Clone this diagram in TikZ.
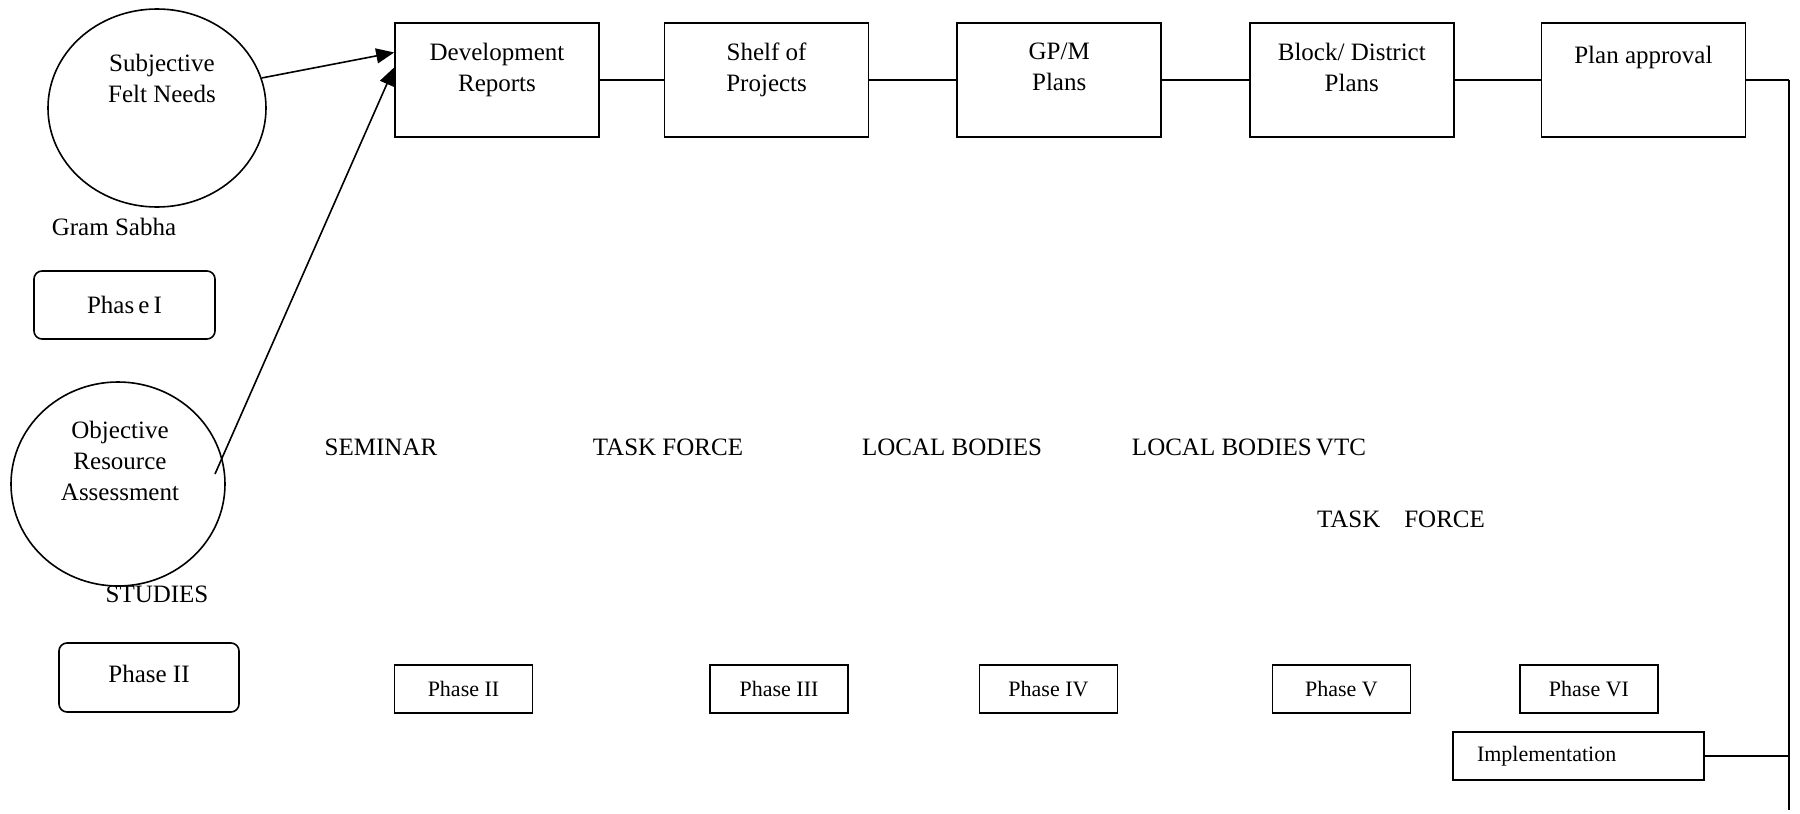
\documentclass[tikz,border=0pt]{standalone}
\usepackage{fontspec}
\setmainfont{Liberation Serif}
\usetikzlibrary{positioning, shapes.geometric, arrows.meta}

\begin{document}
\begin{tikzpicture}[x=0.5pt, y=-0.5pt,
        every node/.style={font=\fontsize{12.5}{15.5}\selectfont},
        planbox/.style={draw, line width=0.8pt, minimum width=102pt, minimum height=57pt, inner sep=0pt},
        boxtext/.style={anchor=north, yshift=-7pt, align=center},
        phasebox/.style={draw, line width=0.8pt, minimum width=69pt, minimum height=24pt, font=\fontsize{11}{13}\selectfont},
        roundphase/.style={draw, line width=0.8pt, rounded corners=4pt},
        needcircle/.style={draw, ellipse, line width=0.8pt, inner sep=0pt},
        link/.style={line width=0.8pt},
        arrowlink/.style={line width=0.8pt, -{Triangle[length=9pt, width=7.5pt]}}]
        \useasboundingbox (0,0) rectangle (1800,814);

        % plan stages
        \node[planbox, label={[boxtext]north:{Development\\Reports}}] (dev) at (497,80) {};
        \node[planbox, right=32pt of dev, label={[boxtext]north:{Shelf of\\Projects}}] (shelf) {};
        \node[planbox, right=43.5pt of shelf, label={[boxtext]north:{GP/M\\Plans}}] (gpm) {};
        \node[planbox, right=43.5pt of gpm, label={[boxtext]north:{Block/ District\\Plans}}] (block) {};
        \node[planbox, right=43pt of block, label={[boxtext, yshift=-1.5pt]north:{Plan approval}}] (approval) {};

        % sources
        \node[needcircle, minimum width=109pt, minimum height=99pt,
            label={[yshift=14.75pt, xshift=2.5pt, align=center]center:{Subjective\\Felt Needs}}] (felt) at (157,108) {};
        \node[needcircle, minimum width=107pt, minimum height=102pt,
            label={[yshift=11.5pt, xshift=1pt, align=center]center:{Objective\\Resource\\Assessment}}] (objective) at (118,484) {};
        \node (gram) at (114,227) {Gram Sabha};
        \node (studies) at (157,594) {STUDIES};
        \node[roundphase, minimum width=90.5pt, minimum height=34pt] (phaseI) at (124.5,305) {Phas\,e\,I};
        \node[roundphase, minimum width=90pt, minimum height=34.5pt, text depth=4pt] (phaseII) at (149,677.5) {Phase II};

        % agencies
        \node (seminar) at (381,447) {SEMINAR};
        \node (taskforce) at (668,447) {TASK FORCE};
        \node (local) at (952,447) {LOCAL BODIES};
        \node (localvtc) at (1249,447) {LOCAL BODIES\,VTC};
        \node (vtcforce) at (1401,519) {TASK\hspace{12pt}FORCE};

        % phases
        \node[phasebox] (p2) at (463.5,689) {Phase II};
        \node[phasebox] (p3) at (779,689) {Phase III};
        \node[phasebox] (p4) at (1048.5,689) {Phase IV};
        \node[phasebox] (p5) at (1341.5,689) {Phase V};
        \node[phasebox] (p6) at (1589,689) {Phase VI};
        \node[phasebox, text width=101.5pt, inner xsep=12pt, align=left] (impl) at (1578.5,756) {Implementation};

        \coordinate (objstart) at (215,474);
        \coordinate (railtop) at (1789,80);
        \coordinate (railbottom) at (1789,810);

        \draw[link] (dev) -- (shelf);
        \draw[link] (shelf) -- (gpm);
        \draw[link] (gpm) -- (block);
        \draw[link] (block) -- (approval);
        \draw[link] (approval.east) -- (approval.east -| railtop);
        \draw[link] (railtop) -- (railbottom);
        \draw[link] (impl.east) -- (impl.east -| railtop);

        \draw[arrowlink] (felt.16) -- (dev.165);
        \draw[arrowlink] (objstart) -- (dev.173);
    \end{tikzpicture}
\end{document}
